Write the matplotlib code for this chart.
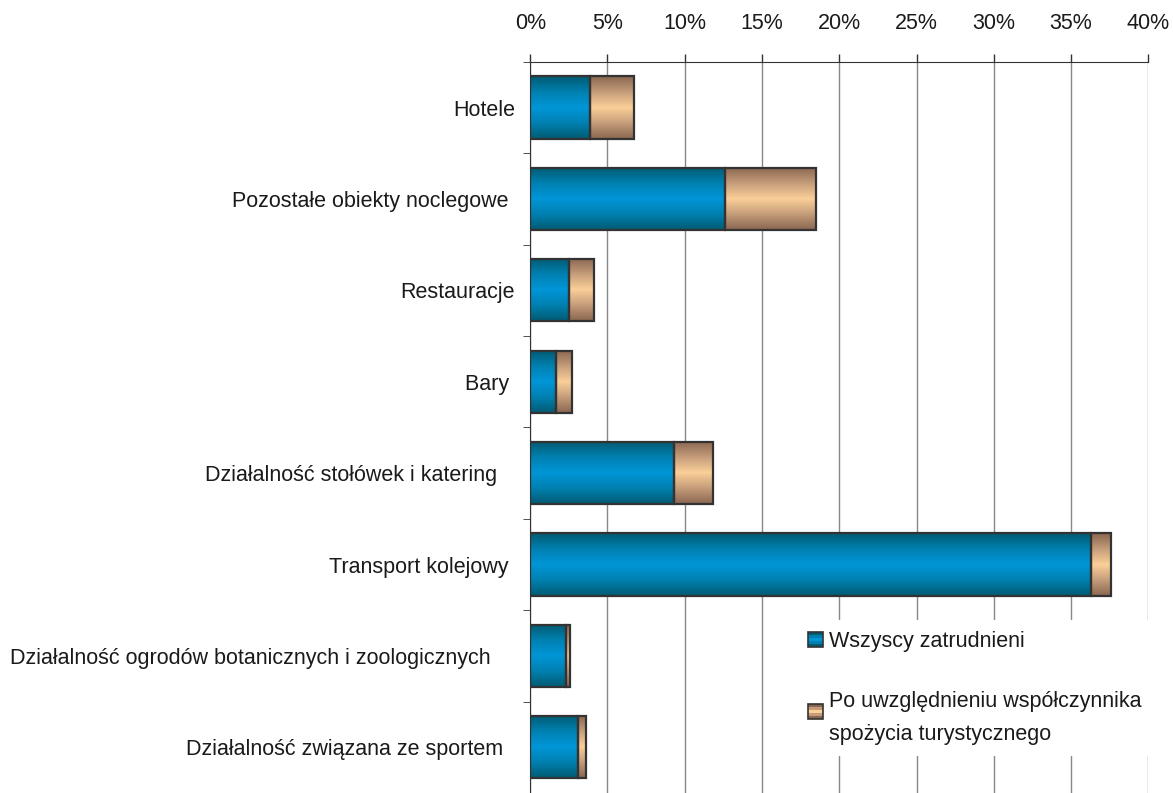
import numpy as np
import matplotlib.pyplot as plt
from matplotlib.patches import Rectangle
from matplotlib.legend_handler import HandlerBase
from matplotlib.ticker import FixedLocator, PercentFormatter

plt.rcParams['font.family'] = ['Liberation Sans', 'DejaVu Sans']
plt.rcParams['text.color'] = '#1a1a1a'
plt.rcParams['xtick.color'] = '#1a1a1a'
plt.rcParams['ytick.color'] = '#1a1a1a'

categories = ["Hotele", "Pozostałe obiekty noclegowe ", "Restauracje", "Bary ",
              "Działalność stołówek i katering   ", "Transport kolejowy ",
              "Działalność ogrodów botanicznych i zoologicznych    ",
              "Działalność związana ze sportem  "]
all_employed = [3.9, 12.6, 2.5, 1.7, 9.3, 36.3, 2.3, 3.1]
tourism_share = [2.8, 5.9, 1.6, 1.0, 2.5, 1.3, 0.3, 0.5]
series_names = ["Wszyscy zatrudnieni",
                "Po uwzględnieniu współczynnika\nspożycia turystycznego"]
xticks = [0, 5, 10, 15, 20, 25, 30, 35, 40]

blue_cmap = plt.matplotlib.colors.LinearSegmentedColormap.from_list(
    "b", ["#005a70", "#0080b0", "#0096d8", "#0080b0", "#005a70"])
tan_cmap = plt.matplotlib.colors.LinearSegmentedColormap.from_list(
    "t", ["#8a6650", "#c49c7a", "#fbcf98", "#c49c7a", "#8a6650"])
grad = np.linspace(0, 1, 256).reshape(-1, 1)

fig = plt.figure(figsize=(11.73, 7.93), dpi=100)
ax = fig.add_axes([0.452, 0.0, 0.527, 0.922])

y = np.arange(len(categories))
h = 0.68


def gradient_bars(bars, cmap):
    for b in bars:
        x0, y0 = b.get_x(), b.get_y()
        w, hh = b.get_width(), b.get_height()
        im = ax.imshow(grad, cmap=cmap, aspect='auto', interpolation='nearest',
                       extent=[x0, x0 + w, y0 + hh, y0], zorder=2)
        im.set_clip_path(b)


b1 = ax.barh(y, all_employed, height=h, facecolor='none', edgecolor='#333333',
             linewidth=1.6, zorder=3)
b2 = ax.barh(y, tourism_share, left=all_employed, height=h, facecolor='none',
             edgecolor='#333333', linewidth=1.6, zorder=3)
gradient_bars(b1, blue_cmap)
gradient_bars(b2, tan_cmap)

ax.set_xlim(0, 40)
ax.set_ylim(len(categories) - 0.5, -0.5)
ax.set_aspect('auto')

ax.xaxis.tick_top()
ax.xaxis.set_major_locator(FixedLocator(xticks))
ax.xaxis.set_major_formatter(PercentFormatter(decimals=0))
ax.tick_params(axis='x', length=6, width=1, color='#333333', labelsize=15.5, pad=14)
ax.grid(axis='x', color='#888888', linewidth=1, zorder=0)
ax.set_axisbelow(True)

ax.set_yticks(y)
ax.set_yticklabels(categories)
ax.tick_params(axis='y', length=0, labelsize=15.5, pad=11)
ax.set_yticks(np.arange(-0.5, len(categories), 1), minor=True)
ax.tick_params(axis='y', which='minor', length=5, color='#333333')

for s in ['right', 'bottom']:
    ax.spines[s].set_visible(False)
ax.spines['top'].set_color('#333333')
ax.spines['left'].set_color('#333333')


class GradHandler(HandlerBase):
    def __init__(self, colors, dy=0):
        super().__init__()
        self.colors = colors
        self.dy = dy

    def create_artists(self, legend, orig, xd, yd, width, height, fontsize, trans):
        s = 11
        x0 = xd + width - s
        y0 = yd + (height - s) / 2 + self.dy
        arts = []
        n = len(self.colors)
        for i, c in enumerate(self.colors):
            arts.append(Rectangle((x0, y0 + i * s / n), s, s / n, facecolor=c,
                                  edgecolor='none', transform=trans))
        arts.append(Rectangle((x0, y0), s, s, facecolor='none', edgecolor='#333333',
                              linewidth=1.2, transform=trans))
        return arts


p1 = Rectangle((0, 0), 1, 1)
p2 = Rectangle((0, 0), 1, 1)
leg = ax.legend([p1, p2], series_names,
                handler_map={p1: GradHandler(["#005a70", "#0080b0", "#0096d8",
                                              "#0080b0", "#005a70"]),
                             p2: GradHandler(["#8a6650", "#c49c7a", "#fbcf98",
                                              "#c49c7a", "#8a6650"], dy=5)},
                loc='upper left', bbox_to_anchor=(0.43, 0.236), frameon=True,
                fontsize=15.5, labelspacing=1.8, handlelength=0.75, handletextpad=0.3,
                borderaxespad=0, borderpad=0.5, fancybox=False)
leg.get_frame().set_edgecolor('none')
leg.get_frame().set_facecolor('white')
leg.get_frame().set_alpha(1)
leg.set_zorder(5)
for t in leg.get_texts():
    t.set_linespacing(1.75)

fig.savefig('out.png', dpi=100)
